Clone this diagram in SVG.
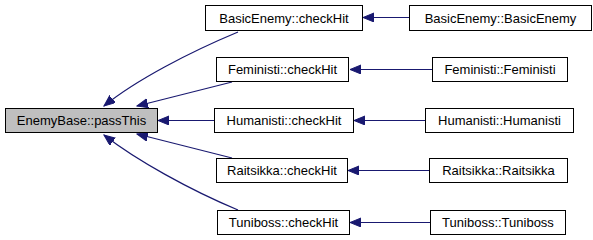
<svg xmlns="http://www.w3.org/2000/svg" width="593" height="240" viewBox="0 0 593 240">
  <style>
    .node rect { fill: #ffffff; stroke: #000000; stroke-width: 1; }
    .node.root rect { fill: #bfbfbf; }
    .node text { font-family: "Liberation Sans", Arial, sans-serif; font-size: 13px; fill: #000000; text-anchor: middle; }
    .edge { fill: none; stroke: #191970; stroke-width: 1.2; marker-end: url(#arrow); }
  </style>
  <defs>
    <marker id="arrow" markerUnits="userSpaceOnUse" markerWidth="12" markerHeight="10" refX="11" refY="4.5" orient="auto">
      <path d="M0,0 L11,4.5 L0,9 z" fill="#191970" stroke="#191970" stroke-width="1"/>
    </marker>
  </defs>

  <g id="edges">
    <!-- callers of EnemyBase::passThis -->
    <path class="edge" d="M238,32 C190,52 136,80 104,106"/>
    <path class="edge" d="M232,82 L137,106"/>
    <path class="edge" d="M214,120.5 L158,120.5"/>
    <path class="edge" d="M232,158 L137,134"/>
    <path class="edge" d="M238,210 C190,190 136,160 104,135"/>
    <!-- constructors calling checkHit -->
    <path class="edge" d="M409,17.5 L363,17.5"/>
    <path class="edge" d="M432,69.5 L350,69.5"/>
    <path class="edge" d="M425,120.5 L354,120.5"/>
    <path class="edge" d="M429,170.5 L348,170.5"/>
    <path class="edge" d="M430,222.5 L350,222.5"/>
  </g>

  <g id="node-EnemyBase-passThis" class="node root">
    <rect x="5.5" y="108.5" width="152" height="24"/>
    <text x="81.5" y="125">EnemyBase::passThis</text>
  </g>

  <g id="node-BasicEnemy-checkHit" class="node">
    <rect x="205.5" y="5.5" width="157" height="25"/>
    <text x="284" y="22.5">BasicEnemy::checkHit</text>
  </g>
  <g id="node-Feministi-checkHit" class="node">
    <rect x="216.5" y="57.5" width="132" height="24"/>
    <text x="282.5" y="74">Feministi::checkHit</text>
  </g>
  <g id="node-Humanisti-checkHit" class="node">
    <rect x="214.5" y="108.5" width="139" height="24"/>
    <text x="284" y="125">Humanisti::checkHit</text>
  </g>
  <g id="node-Raitsikka-checkHit" class="node">
    <rect x="216.5" y="158.5" width="131" height="24"/>
    <text x="282" y="175">Raitsikka::checkHit</text>
  </g>
  <g id="node-Tuniboss-checkHit" class="node">
    <rect x="217.5" y="210.5" width="132" height="24"/>
    <text x="283.5" y="227">Tuniboss::checkHit</text>
  </g>

  <g id="node-BasicEnemy-BasicEnemy" class="node">
    <rect x="409.5" y="5.5" width="182" height="25"/>
    <text x="500.5" y="22.5">BasicEnemy::BasicEnemy</text>
  </g>
  <g id="node-Feministi-Feministi" class="node">
    <rect x="432.5" y="57.5" width="135" height="24"/>
    <text x="500" y="74">Feministi::Feministi</text>
  </g>
  <g id="node-Humanisti-Humanisti" class="node">
    <rect x="425.5" y="108.5" width="148" height="24"/>
    <text x="499.5" y="125">Humanisti::Humanisti</text>
  </g>
  <g id="node-Raitsikka-Raitsikka" class="node">
    <rect x="429.5" y="158.5" width="138" height="24"/>
    <text x="498.5" y="175">Raitsikka::Raitsikka</text>
  </g>
  <g id="node-Tuniboss-Tuniboss" class="node">
    <rect x="430.5" y="210.5" width="135" height="24"/>
    <text x="498" y="227">Tuniboss::Tuniboss</text>
  </g>
</svg>
